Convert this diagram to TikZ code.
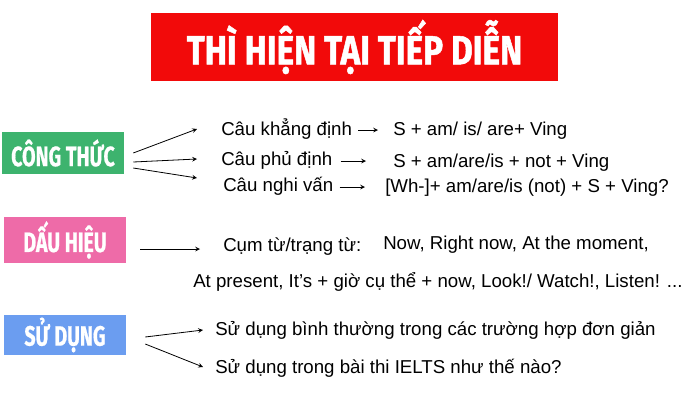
\documentclass[tikz,border=0pt]{standalone}
\usepackage{fontspec}
\usepackage{tikz}
\setmainfont{Liberation Sans}
\newfontfamily\titlefont[FakeStretch=0.82, FakeBold=1.2]{Fira Sans}
\newfontfamily\tagfont[FakeStretch=0.70, FakeBold=0.6]{Fira Sans}
\definecolor{titlered}{HTML}{F20A0A}
\definecolor{taggreen}{HTML}{3DB36E}
\definecolor{tagpink}{HTML}{EE6BA8}
\definecolor{tagblue}{HTML}{6B9DF0}
\begin{document}
\begin{tikzpicture}[
    x=0.75pt, y=-0.75pt,
    tag/.style={text=white, minimum width=122*0.75pt, inner sep=0pt,
        font=\tagfont\bfseries\fontsize{21}{23}\selectfont},
    txt/.style={anchor=base west, inner sep=0pt, font=\fontsize{14}{16}\selectfont},
    arr/.style={-stealth, line width=0.6pt}
]
\useasboundingbox (0,0) rectangle (700,400);
% title
\node[fill=titlered, minimum width=407*0.75pt, minimum height=68*0.75pt, text=white,
    font=\titlefont\bfseries\fontsize{30.5}{32}\selectfont] (title) at (354.5,47) {THÌ HIỆN TẠI TIẾP DIỄN};

% cong thuc
\node[tag, fill=taggreen, minimum height=42*0.75pt] (ct) at (63,153) {CÔNG THỨC};
\node[txt] (kd) at (221,135) {Câu khẳng định};
\node[txt] (pd) at (221,165) {Câu phủ định};
\node[txt] (nv) at (223,191) {Câu nghi vấn};
\node[txt] (f1) at (393,135) {S + am/ is/ are+ Ving};
\node[txt] (f2) at (393,167) {S + am/are/is + not + Ving};
\node[txt] (f3) at (385,192) {[Wh-]+ am/are/is (not) + S + Ving?};
\draw[arr] ([shift={(9,0)}]ct.east) -- ([shift={(-24,-6)}]kd.base west);
\draw[arr] ([shift={(9,9)}]ct.east) -- ([shift={(-24,-6)}]pd.base west);
\draw[arr] ([shift={(9,15)}]ct.east) -- ([shift={(-26,-13)}]nv.base west);
\draw[arr] ([shift={(6,-5)}]kd.base east) -- ([shift={(-15,-5)}]f1.base west);
\draw[arr] ([shift={(8,-4)}]pd.base east) -- ([shift={(-27,-6)}]f2.base west);
\draw[arr] ([shift={(6,-4)}]nv.base east) -- ([shift={(-20,-5)}]f3.base west);

% dau hieu
\node[tag, fill=tagpink, minimum height=46*0.75pt] (dh) at (65,240) {DẤU HIỆU};
\node[txt] (cum) at (223,251) {Cụm từ/trạng từ:};
\node[txt] (now) at (383,249) {Now, Right now, At the moment,};
\node[txt] (atp) at (193,287) {At present, It’s + giờ cụ thể + now, Look!/ Watch!, Listen! ...};
\draw[arr] ([shift={(14,9)}]dh.east) -- ([shift={(-23,-2)}]cum.base west);

% su dung
\node[tag, fill=tagblue, minimum height=40*0.75pt] (sd) at (65,335) {SỬ DỤNG};
\node[txt] (s1) at (215,335) {Sử dụng bình thường trong các trường hợp đơn giản};
\node[txt] (s2) at (215,373) {Sử dụng trong bài thi IELTS như thế nào?};
\draw[arr] ([shift={(19,2)}]sd.east) -- ([shift={(-12,-5)}]s1.base west);
\draw[arr] ([shift={(19,9)}]sd.east) -- ([shift={(-12,-6)}]s2.base west);
\end{tikzpicture}
\end{document}
